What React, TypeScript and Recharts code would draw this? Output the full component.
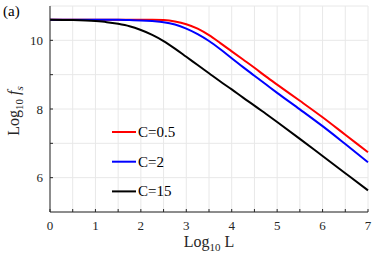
import { CartesianGrid, Line, LineChart, XAxis, YAxis } from 'recharts';

// log10 L sample points (denser round the knees)
const xVals = [0, 0.5, 1, 1.25, 1.5, 1.75, 2, 2.25, 2.5, 2.75, 3, 3.25, 3.5, 3.75, 4, 4.25, 4.5, 4.75, 5, 5.5, 6, 6.5, 7];

// log10 fs
const cHalf = [10.6, 10.6, 10.6, 10.6, 10.6, 10.6, 10.6, 10.6, 10.59, 10.55, 10.47, 10.34, 10.15, 9.92, 9.68, 9.44, 9.2, 8.95, 8.71, 8.24, 7.76, 7.25, 6.74];
const cTwo = [10.6, 10.6, 10.6, 10.6, 10.6, 10.59, 10.58, 10.56, 10.53, 10.46, 10.34, 10.18, 9.98, 9.74, 9.48, 9.22, 8.97, 8.72, 8.47, 7.99, 7.5, 6.98, 6.45];
const cFifteen = [10.6, 10.59, 10.56, 10.53, 10.48, 10.41, 10.3, 10.16, 9.98, 9.76, 9.52, 9.28, 9.04, 8.8, 8.57, 8.33, 8.1, 7.86, 7.62, 7.13, 6.63, 6.13, 5.63];

const xTicks = [0, 0.5, 1, 1.5, 2, 2.5, 3, 3.5, 4, 4.5, 5, 5.5, 6, 6.5, 7];
const yTicks = [6, 7, 8, 9, 10];

const seriesNames = ['C=0.5', 'C=2', 'C=15'];
const seriesColors = ['#ff0000', '#0000ff', '#000000'];

const data = xVals.map((x, i) => ({
  x,
  c05: cHalf[i],
  c2: cTwo[i],
  c15: cFifteen[i],
}));

const font = "'Times New Roman', 'Liberation Serif', 'DejaVu Serif', Tinos, serif";
const axisColor = '#262626';

// rotate(-90) maps (x, y) to page (y, -x): page point (19, 111)
const YLabel = () => (
  <text
    x={-111}
    y={19}
    transform='rotate(-90)'
    textAnchor='middle'
    style={{ fontFamily: font }}
    fontSize={16}
    fill={axisColor}>
    <tspan>Log</tspan>
    <tspan fontSize={11} dy={4}>10</tspan>
    <tspan dy={-4}> </tspan>
    <tspan fontStyle='italic'>f</tspan>
    <tspan fontStyle='italic' fontSize={11} dy={4}>s</tspan>
  </text>
);

const XLabel = () => (
  <text
    x={209}
    y={247}
    textAnchor='middle'
    style={{ fontFamily: font }}
    fontSize={16}
    fill={axisColor}>
    <tspan>Log</tspan>
    <tspan fontSize={11} dy={4}>10</tspan>
    <tspan dy={-4}> L</tspan>
  </text>
);

const intOnly = (v: number) => (Number.isInteger(v) ? String(v) : '');
const evenOnly = (v: number) => (v % 2 === 0 ? String(v) : '');

export default function App() {
  return (
    <div style={{ position: 'absolute', left: 0, top: 0, width: 374, height: 258, background: '#fff', fontFamily: font }}>
      <LineChart
        width={374}
        height={258}
        data={data}
        margin={{ top: 6, right: 6, bottom: 0, left: 0 }}>
        <CartesianGrid stroke='#e8e8e8' strokeWidth={1} />
        <XAxis
          dataKey='x'
          type='number'
          domain={[0, 7]}
          ticks={xTicks}
          interval={0}
          tickFormatter={intOnly}
          height={46}
          tickSize={-3}
          tickMargin={12}
          stroke={axisColor}
          tick={{ fill: axisColor, fontSize: 13, style: { fontFamily: font } }}
          label={<XLabel />}
        />
        <XAxis
          xAxisId='top'
          orientation='top'
          type='number'
          domain={[0, 7]}
          ticks={xTicks}
          interval={0}
          height={0}
          tickSize={-3}
          tick={false}
          stroke={axisColor}
        />
        <YAxis
          type='number'
          domain={[5, 11]}
          ticks={yTicks}
          interval={0}
          tickFormatter={evenOnly}
          width={50}
          tickSize={-3}
          tickMargin={10}
          stroke={axisColor}
          tick={{ fill: axisColor, fontSize: 13, style: { fontFamily: font } }}
          label={<YLabel />}
        />
        <YAxis
          yAxisId='right'
          orientation='right'
          type='number'
          domain={[5, 11]}
          ticks={yTicks}
          interval={0}
          width={0}
          tickSize={-3}
          tick={false}
          stroke={axisColor}
        />
        <Line type='monotone' dataKey='c05' stroke={seriesColors[0]} strokeWidth={2} dot={false} isAnimationActive={false} />
        <Line type='monotone' dataKey='c2' stroke={seriesColors[1]} strokeWidth={2} dot={false} isAnimationActive={false} />
        <Line type='monotone' dataKey='c15' stroke={seriesColors[2]} strokeWidth={2} dot={false} isAnimationActive={false} />
      </LineChart>
      <svg
        width={374}
        height={258}
        style={{ position: 'absolute', left: 0, top: 0, pointerEvents: 'none', fontFamily: font }}>
        <text x={3} y={16} fontSize={15} fill='#000'>
          (a)
        </text>
        {seriesNames.map((name, i) => {
          const cy = 132 + i * 29.7;
          return (
            <g key={name}>
              <line x1={112} x2={136} y1={cy} y2={cy} stroke={seriesColors[i]} strokeWidth={2} />
              <text x={138} y={cy + 5} fontSize={15} fill='#000'>
                {name}
              </text>
            </g>
          );
        })}
      </svg>
    </div>
  );
}
